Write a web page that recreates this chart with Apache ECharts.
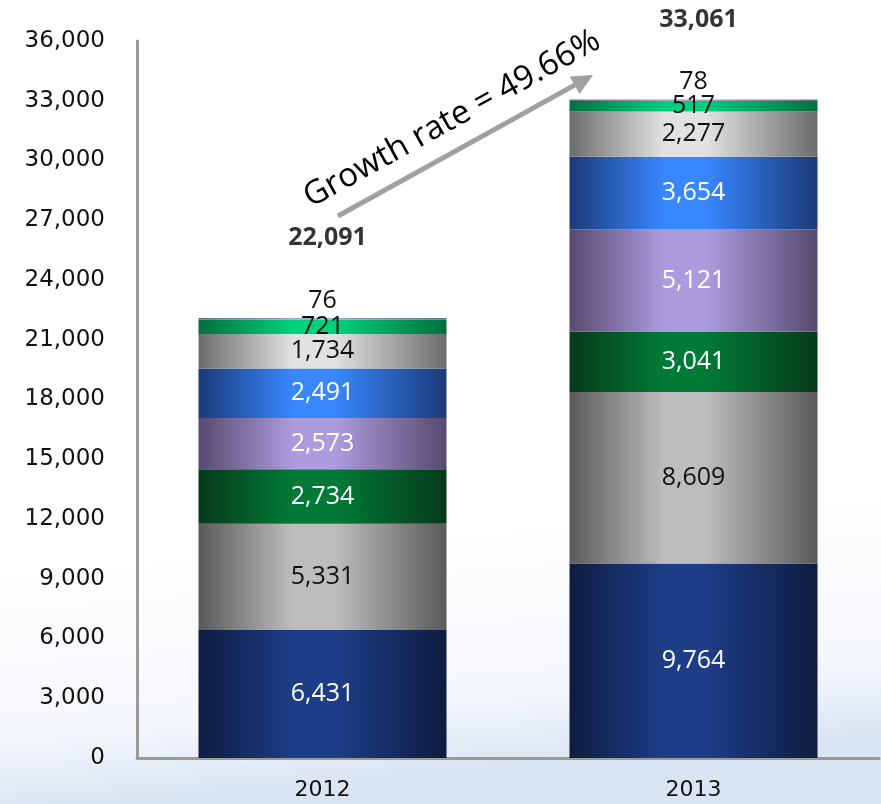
<!DOCTYPE html>
<html>
<head>
<meta charset="utf-8">
<script src="https://cdn.jsdelivr.net/npm/echarts@6/dist/echarts.min.js"></script>
<style>
  html, body { margin: 0; padding: 0; background: #ffffff; }
  #chart { width: 881px; height: 804px; }
</style>
</head>
<body>
<div id="chart"></div>
<script>
// Categories and stacked segment values (bottom to top)
const years = ['2012', '2013'];
const seg1 = [6431, 9764];
const seg2 = [5331, 8609];
const seg3 = [2734, 3041];
const seg4 = [2573, 5121];
const seg5 = [2491, 3654];
const seg6 = [1734, 2277];
const seg7 = [721, 517];
const seg8 = [76, 78];
const totals = [22091, 33061];
const growthText = 'Growth rate = 49.66%';

// Segment look: edge colour, centre highlight colour, label colour
const segStyles = [
  { edge: '#0e1c40', mid: '#1d3d87', text: '#ffffff' },
  { edge: '#5a5a5a', mid: '#bdbdbd', text: '#111111' },
  { edge: '#063a1a', mid: '#007a36', text: '#ffffff' },
  { edge: '#574a6e', mid: '#ac9cde', text: '#ffffff' },
  { edge: '#1b3a78', mid: '#3887ff', text: '#ffffff' },
  { edge: '#6c6c6c', mid: '#e2e2e2', text: '#111111' },
  { edge: '#00703e', mid: '#00d07e', text: '#111111' },
  { edge: '#6a6a82', mid: '#a8a2bf', text: '#111111' }
];
const segData = [seg1, seg2, seg3, seg4, seg5, seg6, seg7, seg8];

function barGradient(s) {
  return new echarts.graphic.LinearGradient(0, 0, 1, 0, [
    { offset: 0, color: s.edge },
    { offset: 0.38, color: s.mid },
    { offset: 0.55, color: s.mid },
    { offset: 1, color: s.edge }
  ]);
}

const fmt = v => v.toLocaleString('en-US');
const labelFont = '"Open Sans", sans-serif';

const series = segData.map((d, i) => {
  const s = segStyles[i];
  const isTop = i === segData.length - 1;
  return {
    type: 'bar',
    stack: 'total',
    barWidth: 248,
    data: d,
    itemStyle: { color: barGradient(s) },
    label: {
      show: true,
      position: isTop ? 'top' : 'inside',
      distance: 5,
      color: s.text,
      fontFamily: labelFont,
      fontSize: 25,
      formatter: p => fmt(p.value)
    },
    silent: true,
    z: 2
  };
});

// Totals printed well above each stack
series.push({
  type: 'scatter',
  data: totals,
  symbolSize: 0,
  label: {
    show: true,
    position: 'inside',
    offset: [5, -80],
    color: '#000000',
    fontFamily: labelFont,
    fontWeight: 'bold',
    fontSize: 25,
    formatter: p => fmt(p.value)
  },
  silent: true,
  z: 5
});

// Growth arrow geometry
const tip = [593, 75];
const tail = [338, 216];
const dx = tip[0] - tail[0], dy = tip[1] - tail[1];
const len = Math.sqrt(dx * dx + dy * dy);
const ux = dx / len, uy = dy / len;
const headLen = 21, headHalf = 10;
const base = [tip[0] - ux * headLen, tip[1] - uy * headLen];
const angle = Math.atan2(-dy, dx);

const chart = echarts.init(document.getElementById('chart'), null, { renderer: 'canvas' });
chart.setOption({
  animation: false,
  backgroundColor: 'transparent',
  grid: { left: 137, right: 2, top: 41, bottom: 46 },
  xAxis: {
    type: 'category',
    data: years,
    axisLine: { show: true, lineStyle: { color: '#9a9a9a', width: 3 } },
    axisTick: { show: false },
    axisLabel: {
      color: '#111111',
      fontFamily: '"DejaVu Sans", sans-serif',
      fontSize: 22,
      margin: 21
    }
  },
  yAxis: {
    type: 'value',
    min: 0,
    max: 36000,
    interval: 3000,
    axisLine: { show: true, lineStyle: { color: '#9a9a9a', width: 3 } },
    axisTick: { show: false },
    splitLine: { show: false },
    axisLabel: {
      color: '#111111',
      fontFamily: '"DejaVu Sans", sans-serif',
      fontSize: 23,
      margin: 32,
      formatter: v => fmt(v)
    }
  },
  series: series,
  graphic: [
    {
      type: 'rect',
      z: -10,
      silent: true,
      shape: { x: 0, y: 0, width: 881, height: 804 },
      style: {
        fill: new echarts.graphic.LinearGradient(0, 0, 0.08, 1, [
          { offset: 0, color: '#ffffff' },
          { offset: 0.7, color: '#ffffff' },
          { offset: 0.92, color: '#f3f6fb' },
          { offset: 1, color: '#dae5f3' }
        ])
      }
    },
    {
      type: 'line',
      z: 10,
      silent: true,
      shape: { x1: tail[0], y1: tail[1], x2: base[0], y2: base[1] },
      style: { stroke: '#a0a0a0', lineWidth: 5 }
    },
    {
      type: 'polygon',
      z: 10,
      silent: true,
      shape: {
        points: [
          tip,
          [base[0] - uy * headHalf, base[1] + ux * headHalf],
          [base[0] + uy * headHalf, base[1] - ux * headHalf]
        ]
      },
      style: { fill: '#a0a0a0' }
    },
    {
      type: 'text',
      z: 10,
      silent: true,
      x: 452,
      y: 119,
      rotation: angle,
      style: {
        text: growthText,
        fill: '#000000',
        font: '33px "Open Sans", sans-serif',
        align: 'center',
        verticalAlign: 'middle'
      }
    }
  ]
});
</script>
</body>
</html>
